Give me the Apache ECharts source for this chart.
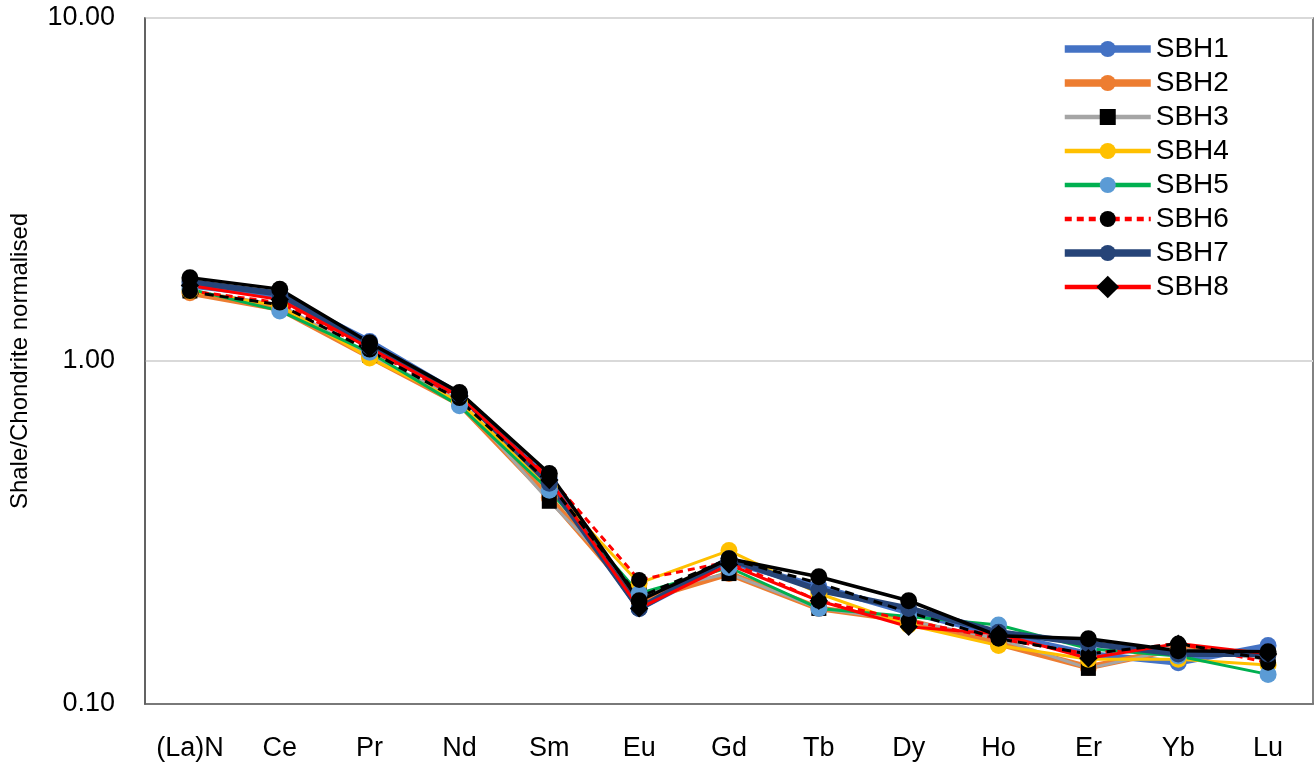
<!DOCTYPE html>
<html>
<head>
<meta charset="utf-8">
<script src="https://cdn.jsdelivr.net/npm/echarts@6/dist/echarts.min.js"></script>
<style>
  html, body { margin: 0; padding: 0; background: #fff; }
  #chart { width: 1315px; height: 766px; }
</style>
</head>
<body>
<div id="chart"></div>
<script>
// categories (REE)
var elements = ['(La)N', 'Ce', 'Pr', 'Nd', 'Sm', 'Eu', 'Gd', 'Tb', 'Dy', 'Ho', 'Er', 'Yb', 'Lu'];

// shale/chondrite normalised values
var sbh1 = [1.66, 1.55, 1.14, 0.80, 0.45, 0.190, 0.260, 0.220, 0.185, 0.160, 0.140, 0.132, 0.148];
var sbh2 = [1.58, 1.42, 1.03, 0.75, 0.40, 0.200, 0.240, 0.190, 0.175, 0.150, 0.128, 0.145, 0.140];
var sbh3 = [1.60, 1.46, 1.04, 0.77, 0.39, 0.210, 0.240, 0.190, 0.175, 0.155, 0.127, 0.145, 0.135];
var sbh4 = [1.60, 1.45, 1.02, 0.76, 0.43, 0.225, 0.280, 0.210, 0.170, 0.148, 0.135, 0.135, 0.130];
var sbh5 = [1.62, 1.40, 1.06, 0.74, 0.42, 0.210, 0.250, 0.190, 0.180, 0.170, 0.145, 0.138, 0.122];
var sbh6 = [1.60, 1.48, 1.08, 0.78, 0.46, 0.230, 0.260, 0.200, 0.175, 0.155, 0.140, 0.150, 0.132];
var sbh7 = [1.70, 1.57, 1.10, 0.80, 0.44, 0.190, 0.265, 0.215, 0.190, 0.162, 0.150, 0.140, 0.140];
var sbh8 = [1.66, 1.51, 1.09, 0.79, 0.45, 0.190, 0.255, 0.200, 0.168, 0.160, 0.136, 0.150, 0.140];
// two unlabelled black series drawn on the plot
var blackSolid = [1.75, 1.62, 1.13, 0.81, 0.47, 0.200, 0.265, 0.235, 0.200, 0.158, 0.155, 0.143, 0.142];
var blackDash = [1.59, 1.46, 1.07, 0.77, 0.44, 0.205, 0.265, 0.225, 0.185, 0.155, 0.140, 0.150, 0.135];

var yTicks = [0.1, 1, 10];
var legendNames = ['SBH1', 'SBH2', 'SBH3', 'SBH4', 'SBH5', 'SBH6', 'SBH7', 'SBH8'];

var font = 'Liberation Sans, Arial, sans-serif';

function line(name, data, color, width, symbol, symColor, size, dash) {
    return {
        name: name,
        type: 'line',
        data: data,
        symbol: symbol,
        symbolSize: size,
        lineStyle: { color: color, width: width, type: dash || 'solid' },
        itemStyle: { color: symColor, borderWidth: 0 },
        emphasis: { disabled: true }
    }
}

var s8 = line('SBH8', sbh8, '#ff0000', 3, 'rect', '#000', 13);
s8.symbolRotate = 45;

var series = [
    line('SBH1', sbh1, '#4472c4', 6, 'circle', '#4472c4', 17),
    line('SBH2', sbh2, '#ed7d31', 6, 'circle', '#ed7d31', 17),
    line('SBH3', sbh3, '#a5a5a5', 3, 'rect', '#000', 15),
    line('SBH4', sbh4, '#ffc000', 3, 'circle', '#ffc000', 17),
    line('SBH5', sbh5, '#00b050', 3, 'circle', '#5b9bd5', 17),
    line('SBH6', sbh6, '#ff0000', 3, 'circle', '#000', 16, [7, 5]),
    line('SBH7', sbh7, '#264478', 6, 'circle', '#264478', 17),
    s8,
    line('blk1', blackSolid, '#000', 3.5, 'circle', '#000', 17),
    line('blk2', blackDash, '#000', 3, 'none', '#000', 0, [9, 6])
];

// legend icons keep the series' own line width
var legendData = legendNames.map(function (n) {
    var s = series.filter(function (x) { return x.name === n; })[0];
    return { name: n, lineStyle: { width: s.lineStyle.width + 1.5 } };
});

var myChart = echarts.init(document.getElementById('chart'));

myChart.setOption({
    animation: false,
    textStyle: { fontFamily: font },
    grid: {
        left: 143, right: 2, top: 18, bottom: 62,
        show: true, borderColor: '#595959', borderWidth: 1.5
    },
    legend: {
        data: legendData,
        orient: 'vertical',
        left: 1056,
        top: 30,
        itemWidth: 86,
        itemHeight: 20,
        itemGap: 6,
        textStyle: { fontSize: 28, lineHeight: 28, color: '#000', fontFamily: font },
        backgroundColor: 'transparent'
    },
    xAxis: {
        type: 'category',
        data: elements,
        boundaryGap: true,
        axisLine: { lineStyle: { color: '#595959', width: 1.5 } },
        axisTick: { show: false },
        axisLabel: { fontSize: 27, color: '#000', margin: 31, interval: 0 }
    },
    yAxis: {
        type: 'log',
        logBase: 10,
        min: yTicks[0],
        max: yTicks[yTicks.length - 1],
        name: 'Shale/Chondrite normalised',
        nameLocation: 'middle',
        nameGap: 113,
        nameTextStyle: { fontSize: 24, color: '#000' },
        axisLine: { show: true, lineStyle: { color: '#595959', width: 1.5 } },
        axisTick: { show: false },
        axisLabel: {
            fontSize: 27, color: '#000', margin: 30,
            formatter: function (v) { return v.toFixed(2); }
        },
        splitLine: { lineStyle: { color: '#d9d9d9', width: 2 } }
    },
    series: series
});
</script>
</body>
</html>
